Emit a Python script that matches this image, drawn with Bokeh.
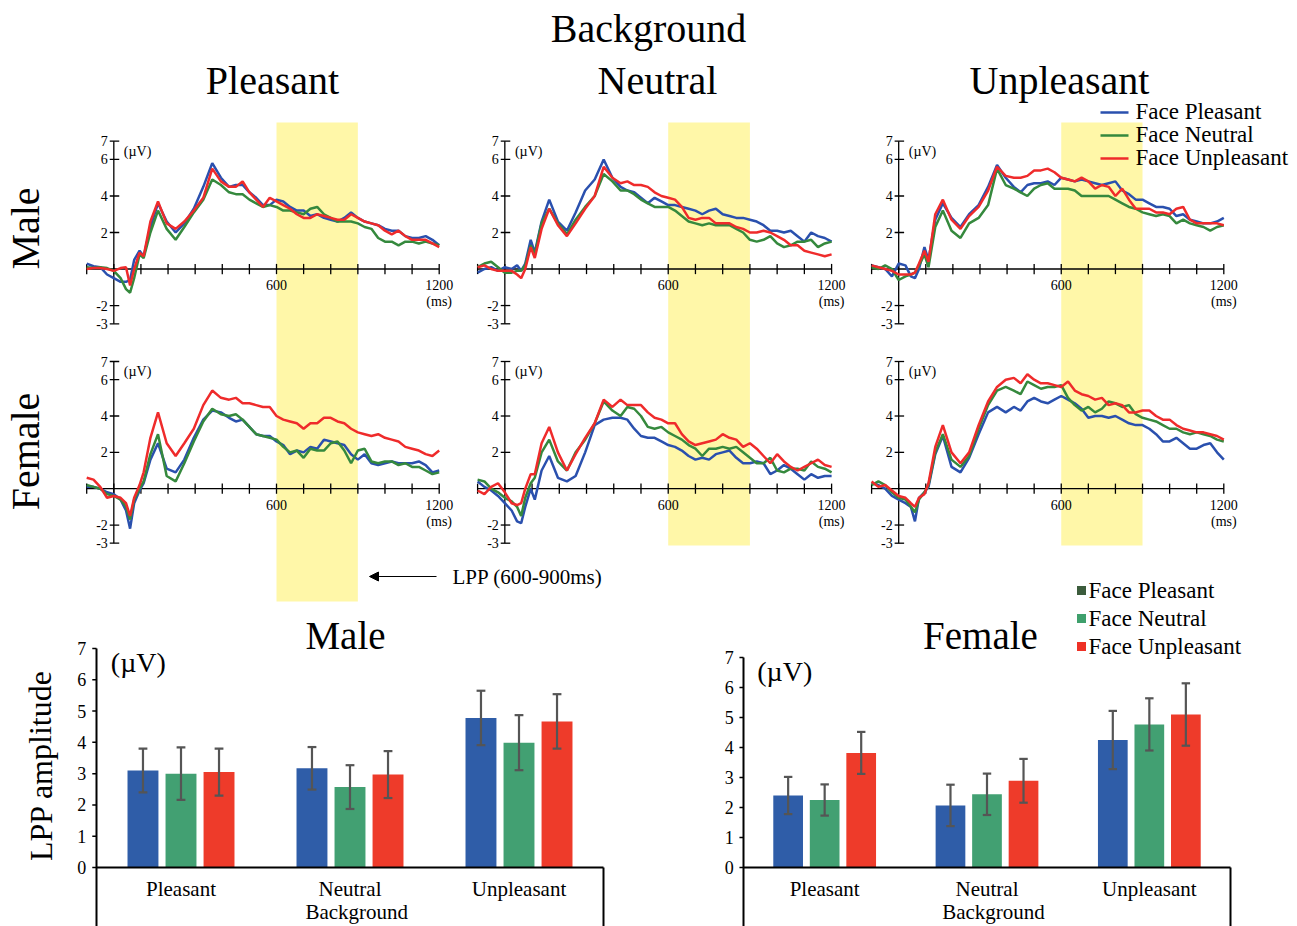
from bokeh.plotting import figure
from bokeh.models import Range1d, Arrow, NormalHead
from bokeh.core.properties import value
from bokeh.embed import file_html
from bokeh.resources import INLINE

SERIF = "Liberation Serif"

# ---------------- ERP waveform data (µV) ----------------
times_ms = [-100, -75, -50, -25, 0, 25, 45, 60, 75, 95,
            110, 135, 163, 195, 228, 260, 295, 330, 363, 395,
            425, 450, 475, 500, 525, 550, 575, 600, 625, 650,
            675, 700, 725, 750, 775, 800, 825, 850, 875, 900,
            925, 950, 975, 1000, 1025, 1050, 1075, 1100, 1125, 1150,
            1175, 1200]

male_bgP_faceP = [0.3, 0.15, 0.1, -0.3, -0.5, -0.7, -0.7, -0.6, 0.5, 1.0,
                  0.7, 2.3, 3.6, 2.6, 2.0, 2.5, 3.3, 4.5, 5.8, 5.0,
                  4.5, 4.6, 4.6, 4.2, 3.9, 3.5, 3.5, 3.8, 3.7, 3.4,
                  3.2, 3.2, 2.9, 3.0, 2.8, 2.7, 2.6, 2.8, 3.1, 2.8,
                  2.6, 2.5, 2.4, 2.2, 2.1, 2.1, 1.8, 1.7, 1.7, 1.8,
                  1.6, 1.3]
male_bgP_faceN = [0.1, 0.05, 0.1, 0.05, -0.1, -0.5, -1.1, -1.3, -0.5, 0.8,
                  0.6, 2.0, 3.2, 2.2, 1.6, 2.3, 3.1, 3.8, 4.9, 4.6,
                  4.2, 4.1, 4.1, 3.8, 3.6, 3.4, 3.5, 3.4, 3.2, 3.2,
                  3.1, 3.0, 3.3, 3.4, 3.0, 2.8, 2.6, 2.6, 2.6, 2.5,
                  2.3, 2.2, 1.7, 1.5, 1.5, 1.3, 1.5, 1.5, 1.4, 1.5,
                  1.4, 1.3]
male_bgP_faceU = [0.0, 0.05, 0.05, 0.0, -0.1, 0.05, 0.1, -0.9, 0.0, 0.9,
                  0.7, 2.6, 3.7, 2.5, 2.2, 2.6, 3.2, 3.9, 5.5, 4.8,
                  4.5, 4.5, 4.8, 4.2, 3.8, 3.4, 3.9, 3.7, 3.5, 3.3,
                  3.0, 2.8, 2.8, 3.0, 2.9, 2.8, 2.7, 2.7, 3.0, 2.8,
                  2.6, 2.5, 2.4, 2.1, 1.9, 2.1, 1.8, 1.6, 1.6, 1.6,
                  1.4, 1.2]

male_bgN_faceP = [-0.2, 0.0, 0.1, -0.1, 0.1, 0.0, 0.2, -0.1, 0.3, 1.6,
                  0.9, 2.6, 3.8, 2.6, 2.1, 3.1, 4.3, 4.9, 6.0, 5.0,
                  4.5, 4.3, 4.2, 3.9, 3.6, 3.9, 3.7, 3.5, 3.5, 3.4,
                  3.3, 3.2, 3.0, 3.2, 3.3, 3.0, 2.9, 2.8, 2.8, 2.7,
                  2.6, 2.4, 2.1, 2.1, 2.0, 2.1, 1.8, 1.5, 2.0, 1.8,
                  1.7, 1.5]
male_bgN_faceN = [0.1, 0.3, 0.4, 0.1, -0.2, -0.2, -0.1, -0.1, 0.2, 1.3,
                  0.8, 2.5, 3.3, 2.5, 1.9, 2.7, 3.4, 4.0, 5.2, 4.8,
                  4.3, 4.3, 4.1, 3.8, 3.6, 3.4, 3.4, 3.4, 3.2, 2.9,
                  2.6, 2.5, 2.4, 2.5, 2.4, 2.4, 2.4, 2.2, 2.0, 1.6,
                  1.5, 1.6, 1.8, 1.4, 1.2, 1.3, 1.5, 1.5, 1.6, 1.2,
                  1.4, 1.5]
male_bgN_faceU = [0.1, 0.2, 0.0, -0.1, -0.1, -0.1, -0.3, -0.5, 0.0, 1.2,
                  0.6, 2.2, 3.3, 2.4, 1.8, 2.5, 3.3, 4.0, 5.6, 5.0,
                  4.7, 4.8, 4.6, 4.6, 4.5, 4.2, 4.0, 3.9, 3.8, 3.4,
                  2.8, 2.7, 2.8, 2.8, 2.5, 2.5, 2.5, 2.3, 2.2, 2.0,
                  2.0, 2.1, 2.0, 1.8, 1.6, 1.3, 1.3, 1.0, 0.9, 0.8,
                  0.7, 0.8]

male_bgU_faceP = [0.2, 0.1, 0.0, -0.4, 0.3, 0.2, -0.4, -0.5, 0.0, 1.2,
                  0.5, 2.7, 3.6, 2.8, 2.3, 3.0, 3.5, 4.5, 5.7, 5.0,
                  4.5, 4.2, 4.6, 4.7, 4.7, 4.8, 4.6, 5.0, 4.9, 4.8,
                  4.9, 4.8, 4.7, 4.6, 4.7, 4.8, 4.3, 4.1, 3.8, 3.8,
                  3.6, 3.4, 3.4, 3.3, 2.9, 3.0, 2.7, 2.6, 2.5, 2.5,
                  2.6, 2.8]
male_bgU_faceN = [0.1, 0.0, 0.2, 0.0, -0.6, -0.4, -0.3, -0.2, 0.2, 0.8,
                  0.1, 2.3, 3.2, 2.1, 1.7, 2.5, 2.8, 3.5, 5.5, 4.6,
                  4.4, 4.2, 4.0, 4.4, 4.6, 4.7, 4.4, 4.4, 4.4, 4.3,
                  4.0, 4.0, 4.0, 4.0, 4.0, 3.8, 3.6, 3.4, 3.3, 3.1,
                  3.0, 2.9, 3.0, 2.9, 2.5, 2.7, 2.5, 2.4, 2.3, 2.1,
                  2.3, 2.4]
male_bgU_faceU = [0.2, 0.1, 0.0, -0.1, -0.3, -0.3, -0.3, -0.2, 0.3, 1.0,
                  0.4, 3.0, 3.8, 2.7, 2.2, 2.9, 3.4, 4.3, 5.6, 5.1,
                  5.0, 5.0, 5.1, 5.4, 5.4, 5.5, 5.3, 5.0, 4.9, 4.8,
                  5.0, 4.8, 4.4, 4.6, 4.5, 4.0, 4.4, 3.8, 3.3, 3.3,
                  3.3, 3.1, 3.1, 3.0, 3.3, 3.4, 2.7, 2.5, 2.5, 2.5,
                  2.5, 2.4]

female_bgP_faceP = [0.1, 0.1, 0.0, -0.2, -0.3, -0.6, -1.2, -2.2, -0.8, -0.1,
                    0.3, 1.6, 2.5, 1.1, 0.9, 1.6, 2.8, 3.8, 4.3, 4.2,
                    3.9, 3.7, 3.8, 3.4, 3.0, 2.9, 2.9, 2.6, 2.4, 1.9,
                    2.1, 2.0, 2.3, 2.2, 2.7, 2.6, 2.5, 2.4, 1.9, 1.6,
                    1.9, 1.4, 1.3, 1.4, 1.5, 1.4, 1.4, 1.4, 1.5, 1.3,
                    0.9, 1.0]
female_bgP_faceN = [0.2, 0.1, 0.0, -0.3, -0.4, -0.6, -1.0, -1.7, -0.6, 0.0,
                    0.4, 1.9, 3.0, 0.7, 0.4, 1.4, 2.6, 3.7, 4.4, 4.1,
                    4.0, 4.1, 3.8, 3.4, 3.0, 2.9, 2.8, 2.7, 2.3, 2.0,
                    2.1, 1.7, 2.2, 2.1, 2.1, 2.5, 2.6, 2.1, 1.4, 2.1,
                    2.2, 1.5, 1.4, 1.5, 1.5, 1.3, 1.4, 1.2, 1.2, 1.0,
                    0.8, 0.9]
female_bgP_faceU = [0.6, 0.5, 0.1, -0.5, -0.4, -0.5, -0.8, -1.5, -0.5, 0.2,
                    0.9, 2.8, 4.2, 2.5, 1.8, 2.5, 3.3, 4.6, 5.4, 5.0,
                    4.9, 5.0, 4.7, 4.7, 4.6, 4.5, 4.5, 4.0, 3.8, 3.7,
                    3.6, 3.3, 3.6, 3.6, 3.9, 3.9, 3.7, 3.6, 3.3, 3.1,
                    3.0, 2.9, 3.0, 2.8, 2.7, 2.6, 2.3, 2.2, 2.1, 1.9,
                    1.8, 2.1]

female_bgN_faceP = [0.4, 0.1, -0.1, -0.4, -0.8, -1.2, -1.8, -1.9, -1.0, 0.0,
                    -0.6, 1.0, 1.8, 0.6, 0.4, 0.7, 2.0, 3.5, 3.8, 3.9,
                    3.9, 3.8, 3.3, 2.9, 2.8, 2.8, 2.6, 2.4, 2.3, 2.1,
                    1.8, 1.6, 1.7, 1.6, 1.9, 2.0, 2.1, 1.7, 1.4, 1.4,
                    1.5, 1.4, 0.8, 1.0, 1.3, 1.1, 0.8, 0.5, 0.8, 0.6,
                    0.7, 0.7]
female_bgN_faceN = [0.5, 0.4, 0.0, -0.2, -0.5, -0.7, -1.0, -1.5, -0.5, 0.3,
                    0.6, 2.0, 2.7, 1.5, 1.0, 2.0, 2.7, 3.6, 4.8, 4.3,
                    4.0, 4.5, 4.4, 4.0, 3.4, 3.3, 3.4, 3.1, 2.9, 2.7,
                    2.4, 2.2, 1.8, 2.2, 2.2, 2.3, 2.2, 2.3, 2.0, 1.7,
                    1.4, 1.4, 1.7, 1.0, 0.9, 1.1, 1.1, 1.0, 1.5, 1.2,
                    1.1, 0.9]
female_bgN_faceU = [-0.1, -0.3, 0.1, 0.3, -0.2, -0.8, -0.9, -0.8, 0.0, 0.8,
                    0.8, 2.5, 3.4, 2.0, 1.0, 1.9, 2.8, 3.6, 4.9, 4.5,
                    4.9, 4.6, 4.6, 4.6, 4.2, 3.9, 3.8, 3.6, 3.6, 3.0,
                    2.6, 2.4, 2.5, 2.6, 2.7, 3.0, 2.8, 2.7, 2.3, 2.5,
                    2.2, 1.8, 1.4, 1.9, 1.5, 1.2, 1.0, 1.2, 1.4, 1.6,
                    1.3, 1.2]

female_bgU_faceP = [0.3, 0.2, 0.0, -0.4, -0.6, -0.8, -1.0, -1.8, -0.5, -0.2,
                    0.1, 1.9, 2.9, 1.2, 0.9, 1.7, 3.0, 4.2, 4.5, 4.2,
                    4.5, 4.3, 4.8, 5.0, 4.8, 4.7, 4.9, 5.1, 4.9, 4.7,
                    4.4, 3.9, 4.0, 4.0, 3.9, 4.0, 3.8, 3.6, 3.5, 3.5,
                    3.3, 3.0, 2.6, 2.6, 2.8, 2.5, 2.2, 2.2, 2.4, 2.5,
                    2.0, 1.6]
female_bgU_faceN = [0.2, 0.4, 0.2, -0.2, -0.5, -0.6, -1.0, -1.3, -0.6, -0.2,
                    0.2, 2.0, 3.0, 1.6, 1.2, 1.8, 3.3, 4.6, 5.4, 5.6,
                    5.4, 5.2, 5.9, 5.7, 5.5, 5.6, 5.6, 5.7, 5.0, 4.6,
                    4.3, 4.5, 4.2, 4.4, 4.8, 4.7, 4.5, 4.6, 4.1, 3.9,
                    3.8, 3.7, 3.5, 3.3, 3.3, 3.1, 3.0, 3.1, 3.0, 2.9,
                    2.7, 2.6]
female_bgU_faceU = [0.4, 0.1, 0.2, -0.1, -0.4, -0.5, -0.8, -1.0, -0.5, -0.3,
                    0.3, 2.3, 3.5, 2.0, 1.4, 2.0, 3.5, 4.8, 5.6, 6.0,
                    6.1, 5.8, 6.3, 6.0, 5.8, 5.8, 5.7, 5.6, 5.9, 5.4,
                    5.2, 5.1, 4.9, 5.0, 4.6, 4.7, 4.6, 4.2, 4.2, 4.3,
                    4.3, 4.0, 3.8, 3.8, 3.5, 3.3, 3.2, 3.1, 3.1, 3.0,
                    2.9, 2.7]

# ---------------- LPP bar data (µV), order: Pleasant, Neutral, Unpleasant background ----------------
backgrounds = ["Pleasant", "Neutral", "Unpleasant"]
face_conditions = ["Face Pleasant", "Face Neutral", "Face Unpleasant"]

male_lpp_faceP = [3.10, 3.17, 4.78]
male_lpp_faceN = [3.00, 2.57, 3.99]
male_lpp_faceU = [3.05, 2.97, 4.67]
male_se_faceP = [0.70, 0.68, 0.87]
male_se_faceN = [0.84, 0.70, 0.88]
male_se_faceU = [0.75, 0.75, 0.87]

female_lpp_faceP = [2.40, 2.07, 4.25]
female_lpp_faceN = [2.25, 2.44, 4.77]
female_lpp_faceU = [3.82, 2.89, 5.10]
female_se_faceP = [0.62, 0.69, 0.97]
female_se_faceN = [0.52, 0.69, 0.87]
female_se_faceU = [0.70, 0.73, 1.04]

erp_x_ticks = list(range(-100, 1201, 100))
erp_x_labels = [600, 1200]
erp_y_ticks = [7, 6, 4, 2, -2, -3]
bar_y_ticks = [0, 1, 2, 3, 4, 5, 6, 7]

# ---------------- styles ----------------
ERP_COLORS = ["#2A50AE", "#35893D", "#EF2B2B"]
BAR_COLORS = ["#2F5DA8", "#42A072", "#EE3B2A"]
BAR_LEGEND_COLORS = ["#3C5C3C", "#3FA06C", "#EE3126"]
BAND = "#FFF7A8"

W, H = 1297, 926
p = figure(width=W, height=H, x_range=Range1d(0, W), y_range=Range1d(H, 0),
           output_backend="svg", toolbar_location=None, min_border=0,
           x_axis_location=None, y_axis_location=None)
p.grid.visible = False
p.outline_line_color = None
p.background_fill_color = "white"


def txt(target, xs, ys, texts, size, align="center", baseline="middle", angle=0.0):
    target.text(x=xs, y=ys, text=texts, text_font=value(SERIF), text_font_size=f"{size}px",
                text_align=align, text_baseline=baseline, angle=angle, text_color="black")


# ---------------- layout positions (pixels) ----------------
col_x = [(86.2, 438.7), (477.1, 831.1), (871.1, 1223.3)]
row_y = [(323.3, 140.7), (542.7, 361.0)]
band_bottom = [601, 545, 545]
band_top = 122

# yellow LPP windows
for c in range(3):
    band = p.subplot(x_source=Range1d(-100, 1200), y_source=Range1d(0, 1),
                     x_target=Range1d(*col_x[c]), y_target=Range1d(0, 1))
    band.quad(left=[600], right=[900], top=[band_top], bottom=[band_bottom[c]],
              fill_color=BAND, line_color=None)

erp_series = [
    [[male_bgP_faceP, male_bgP_faceN, male_bgP_faceU],
     [male_bgN_faceP, male_bgN_faceN, male_bgN_faceU],
     [male_bgU_faceP, male_bgU_faceN, male_bgU_faceU]],
    [[female_bgP_faceP, female_bgP_faceN, female_bgP_faceU],
     [female_bgN_faceP, female_bgN_faceN, female_bgN_faceU],
     [female_bgU_faceP, female_bgU_faceN, female_bgU_faceU]],
]


def erp_panel(xt, yt, series):
    s = p.subplot(x_source=Range1d(-100, 1200), y_source=Range1d(-3, 7),
                  x_target=Range1d(*xt), y_target=Range1d(*yt))
    ax = dict(line_color="black", line_width=1.3)
    s.segment(x0=[-100], y0=[0], x1=[1200], y1=[0], **ax)
    s.segment(x0=[0], y0=[-3], x1=[0], y1=[7], **ax)
    n = len(erp_x_ticks)
    s.segment(x0=erp_x_ticks, y0=[-0.28] * n, x1=erp_x_ticks, y1=[0.28] * n, **ax)
    m = len(erp_y_ticks)
    s.segment(x0=[-15] * m, y0=erp_y_ticks, x1=[20] * m, y1=erp_y_ticks, **ax)
    txt(s, [-22] * m, erp_y_ticks, [str(v) for v in erp_y_ticks], 14, align="right")
    txt(s, erp_x_labels, [-0.9] * len(erp_x_labels), [str(v) for v in erp_x_labels], 14)
    txt(s, [1200], [-1.8], ["(ms)"], 14)
    txt(s, [37], [6.45], ["(\u00b5V)"], 14, align="left")
    for vals, color in zip(series, ERP_COLORS):
        s.line(times_ms, vals, line_color=color, line_width=2.5)


for r in range(2):
    for c in range(3):
        erp_panel(col_x[c], row_y[r], erp_series[r][c])

# titles
txt(p, [648], [28], ["Background"], 40)
txt(p, [272, 657, 1059], [80, 80, 80], backgrounds, 40)
txt(p, [25], [228], ["Male"], 40, angle=1.5708)
txt(p, [25], [451], ["Female"], 40, angle=1.5708)

# ERP legend
for i, (name, color) in enumerate(zip(face_conditions, ERP_COLORS)):
    yy = 112 + 23 * i
    p.line([1100, 1128], [yy, yy], line_color=color, line_width=2.5)
    txt(p, [1135], [yy - 1], [name], 23, align="left")

# LPP window annotation
p.add_layout(Arrow(end=NormalHead(size=9, fill_color="black", line_color="black"),
                   x_start=436, y_start=576, x_end=369, y_end=576,
                   line_color="black", line_width=1.2))
txt(p, [452], [576], ["LPP (600-900ms)"], 21, align="left")


# ---------------- bar charts ----------------
def bar_panel(xt, yt, means, ses, title, title_xy, bg_y):
    s = p.subplot(x_source=Range1d(0, 3), y_source=Range1d(0, 7),
                  x_target=Range1d(*xt), y_target=Range1d(*yt))
    offsets = [-0.225, 0.0, 0.225]
    for k in range(3):
        xs = [i + 0.5 + offsets[k] for i in range(3)]
        m = means[k]
        e = ses[k]
        s.vbar(x=xs, top=m, bottom=0, width=0.183, fill_color=BAR_COLORS[k], line_color=None)
        lo = [a - b for a, b in zip(m, e)]
        hi = [a + b for a, b in zip(m, e)]
        s.segment(x0=xs, y0=lo, x1=xs, y1=hi, line_color="#555555", line_width=2.2)
        s.segment(x0=[x - 0.026 for x in xs], y0=hi, x1=[x + 0.026 for x in xs], y1=hi,
                  line_color="#555555", line_width=2.2)
        s.segment(x0=[x - 0.026 for x in xs], y0=lo, x1=[x + 0.026 for x in xs], y1=lo,
                  line_color="#555555", line_width=2.2)
    s.segment(x0=[0], y0=[0], x1=[3], y1=[0], line_color="black", line_width=2)
    s.segment(x0=[0, 3], y0=[7, 0], x1=[0, 3], y1=[-2.5, -2.5], line_color="black", line_width=2)
    nt = len(bar_y_ticks)
    s.segment(x0=[-0.025] * nt, y0=bar_y_ticks, x1=[0] * nt, y1=bar_y_ticks, line_color="black", line_width=1.5)
    txt(s, [-0.06] * nt, bar_y_ticks, [str(v) for v in bar_y_ticks], 18, align="right")
    txt(s, [0.5, 1.5, 2.5], [-0.7] * 3, backgrounds, 21)
    txt(s, [1.54], [bg_y], ["Background"], 21)
    txt(s, [0.085], [6.55], ["(\u00b5V)"], 28, align="left")
    txt(p, [title_xy[0]], [title_xy[1]], [title], 39)


bar_panel((96, 603), (867, 648),
          [male_lpp_faceP, male_lpp_faceN, male_lpp_faceU],
          [male_se_faceP, male_se_faceN, male_se_faceU], "Male", (345, 635), -1.42)
bar_panel((743, 1230), (867, 657),
          [female_lpp_faceP, female_lpp_faceN, female_lpp_faceU],
          [female_se_faceP, female_se_faceN, female_se_faceU], "Female", (980, 635), -1.47)

txt(p, [40], [765], ["LPP amplitude"], 32, angle=1.5708)

# bar legend
for i, (name, color) in enumerate(zip(face_conditions, BAR_LEGEND_COLORS)):
    yy = 590 + 28 * i
    p.scatter([1081], [yy], marker="square", size=9, fill_color=color, line_color=None)
    txt(p, [1088], [yy], [name], 23, align="left")

open("out.html", "w").write(file_html(p, INLINE))
